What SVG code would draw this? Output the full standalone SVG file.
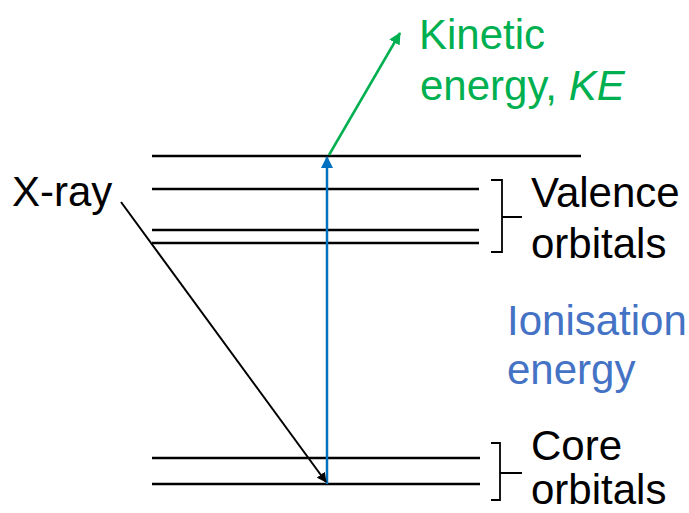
<svg xmlns="http://www.w3.org/2000/svg" width="689" height="513" viewBox="0 0 689 513">
<defs>
<style>
.lvl{stroke:#000;stroke-width:2.5;fill:none}
.br{stroke:#000;stroke-width:1.8;fill:none}
text{font-family:"Liberation Sans",Arial,sans-serif;font-size:42px}
</style>
<marker id="ak" markerWidth="10" markerHeight="10" refX="9" refY="5" orient="auto" markerUnits="userSpaceOnUse" viewBox="0 0 10 10"><path d="M0,0 L10,5 L0,10 z" fill="#000"/></marker>
<marker id="ab" markerWidth="12" markerHeight="12" refX="11" refY="6" orient="auto" markerUnits="userSpaceOnUse" viewBox="0 0 12 12"><path d="M0,0 L12,6 L0,12 z" fill="#0070C0"/></marker>
<marker id="ag" markerWidth="12" markerHeight="12" refX="11" refY="6" orient="auto" markerUnits="userSpaceOnUse" viewBox="0 0 12 12"><path d="M0,0 L12,6 L0,12 z" fill="#00B050"/></marker>
</defs>
<rect width="689" height="513" fill="#fff"/>
<g id="levels">
<line class="lvl" x1="152" y1="156" x2="581" y2="156"/>
<line class="lvl" x1="152" y1="189" x2="479" y2="189"/>
<line class="lvl" x1="152" y1="230" x2="479" y2="230"/>
<line class="lvl" x1="152" y1="243" x2="479" y2="243"/>
<line class="lvl" x1="152" y1="458" x2="480" y2="458"/>
<line class="lvl" x1="152" y1="484" x2="480" y2="484"/>
</g>
<g id="valence">
<path class="br" d="M491,180 L502,180 L502,252 L491,252 M502,217 L522,217"/>
<text x="531" y="207">Valence</text>
<text x="531" y="258">orbitals</text>
</g>
<g id="core">
<path class="br" d="M491,443 L500,443 L500,500 L491,500 M500,473 L522,473"/>
<text x="531" y="460">Core</text>
<text x="531" y="504">orbitals</text>
</g>
<g id="xray">
<text x="12" y="206">X-ray</text>
</g>
<g id="ionisation">
<text x="507" y="335" fill="#4472C4">Ionisation</text>
<text x="507" y="384" fill="#4472C4">energy</text>
</g>
<g id="kinetic">
<text x="419" y="49" fill="#00B050">Kinetic</text>
<text x="420" y="100" fill="#00B050">energy, <tspan font-style="italic">KE</tspan></text>
</g>
<g id="connectors">
<line x1="327" y1="484" x2="327" y2="157" stroke="#0070C0" stroke-width="2.5" marker-end="url(#ab)"/>
<line x1="329" y1="155" x2="400" y2="33" stroke="#00B050" stroke-width="2.5" marker-end="url(#ag)"/>
<line x1="121" y1="202" x2="326" y2="482" stroke="#000" stroke-width="2" marker-end="url(#ak)"/>
</g>
</svg>
